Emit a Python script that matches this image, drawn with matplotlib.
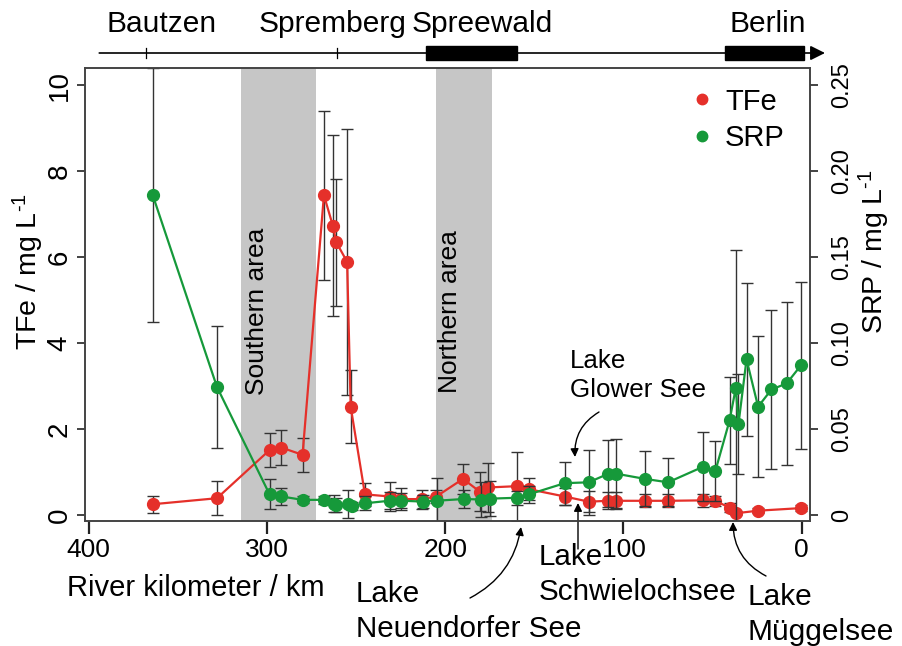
import matplotlib
matplotlib.use('Agg')
import matplotlib.pyplot as plt
from matplotlib.patches import Rectangle
from matplotlib.lines import Line2D
import matplotlib.transforms as mtransforms

plt.rcParams['font.family'] = ['Liberation Sans', 'DejaVu Sans']
plt.rcParams['mathtext.fontset'] = 'custom'
plt.rcParams['mathtext.rm'] = 'Liberation Sans'
plt.rcParams['mathtext.it'] = 'Liberation Sans:italic'

# ---------------- data ----------------
tfe_km = [364, 328, 298.5, 292, 280, 268, 263, 261, 255, 253, 245, 231, 225, 213,
          205, 190, 180.5, 176, 160, 153, 133, 119.5, 108.5, 104, 88, 75, 55.5,
          48.5, 40.5, 37, 24.5, 0.5]
tfe = [0.25, 0.39, 1.51, 1.57, 1.40, 7.44, 6.73, 6.34, 5.89, 2.52, 0.48, 0.43, 0.37,
       0.37, 0.43, 0.84, 0.54, 0.64, 0.67, 0.60, 0.43, 0.31, 0.33, 0.33, 0.33, 0.33,
       0.34, 0.33, 0.17, 0.04, 0.10, 0.16]
tfe_err = [0.2, 0.4, 0.4, 0.4, 0.4, 1.97, 2.1, 1.47, 3.1, 0.85, 0.26, 0.34, 0.25,
           0.22, 0.15, 0.35, 0.45, 0.56, 0.8, 0.25, 0.2, 0.25, 0.2, 0.2, 0.15, 0.15,
           0.15, 0.12, 0.1, 0.05, 0.06, 0.07]

srp_km = [364, 328, 298.5, 292, 280, 268, 262.5, 261, 254.5, 252.5, 245, 231, 224.5,
          212.5, 204.5, 189.5, 180, 175, 160, 153, 133, 119.5, 108.5, 104, 88, 75,
          55.5, 48.5, 40.5, 37, 35.5, 31, 24.5, 17, 8.5, 0.5]
srp = [0.186, 0.0745, 0.012, 0.0108, 0.0088, 0.0088, 0.0065, 0.0058, 0.0063, 0.0053,
       0.0068, 0.0083, 0.0083, 0.0078, 0.0083, 0.0093, 0.009, 0.0095, 0.010, 0.012,
       0.0185, 0.019, 0.024, 0.024, 0.021, 0.019, 0.028, 0.0255, 0.055, 0.074,
       0.053, 0.0905, 0.063, 0.073, 0.0765, 0.087]
srp_err = [0.074, 0.0355, 0.0088, 0.005, 0.002, 0.0025, 0.005, 0.004, 0.008, 0.0025,
           0.004, 0.005, 0.0045, 0.004, 0.013, 0.005, 0.01, 0.01, 0.004, 0.005,
           0.0125, 0.019, 0.0195, 0.02, 0.016, 0.014, 0.02, 0.0175, 0.0255, 0.08,
           0.029, 0.0445, 0.041, 0.046, 0.0475, 0.0485]

southern_area = (314.5, 272.5)
northern_area = (205, 174)
x_ticks = [0, 100, 200, 300, 400]
tfe_ticks = [0, 2, 4, 6, 8, 10]
srp_ticks = [0, 0.05, 0.10, 0.15, 0.20, 0.25]
srp_tick_labels = ['0', '0.05', '0.10', '0.15', '0.20', '0.25']

towns = ['Bautzen', 'Spremberg', 'Spreewald', 'Berlin']
town_km = [359, 263, 179, 19]
town_tick_km = [368, 260.5]
lake_blocks = [(160, 211), (-1, 43)]

RED = '#E5302A'
GREEN = '#16993A'
SPINE = '#444444'

# ---------------- figure ----------------
fig = plt.figure(figsize=(9.02, 6.46), dpi=100)
L, R, T, B = 85, 810, 68, 521
W, H = 902, 646
ax = fig.add_axes([L / W, 1 - B / H, (R - L) / W, (B - T) / H])
ax2 = ax.twinx()

ax.set_xlim(402, -4.6)
ax.set_ylim(-0.14, 10.4)
ax2.set_ylim(-0.14 / 40, 10.4 / 40)

ax.axvspan(*southern_area, color='#C6C6C6', lw=0, zorder=0)
ax.axvspan(*northern_area, color='#C6C6C6', lw=0, zorder=0)

ax.errorbar(tfe_km, tfe, yerr=tfe_err, fmt='none', ecolor='#333333',
            elinewidth=1.0, capsize=4.5, capthick=1.0, zorder=2)
ax.plot(tfe_km, tfe, '-o', color=RED, lw=1.6, ms=8.5, mec=RED, zorder=3)

ax2.errorbar(srp_km, srp, yerr=srp_err, fmt='none', ecolor='#333333',
             elinewidth=1.0, capsize=4.5, capthick=1.0, zorder=2)
ax2.plot(srp_km, srp, '-o', color=GREEN, lw=1.6, ms=8.5, mec=GREEN, zorder=3)

for a in (ax, ax2):
    for s in a.spines.values():
        s.set_color(SPINE)
        s.set_linewidth(1.2)

ax.set_xticks(x_ticks)
ax.set_xticklabels([str(v) for v in x_ticks])
ax.tick_params(axis='x', direction='out', length=9, width=1.6, labelsize=19,
               pad=3, color='#222222')
ax.set_yticks(tfe_ticks)
ax.set_yticklabels([str(v) for v in tfe_ticks], rotation=90, va='center')
ax.tick_params(axis='y', direction='out', length=6, width=1.2, labelsize=20,
               pad=3, color='#222222')
ax2.set_yticks(srp_ticks)
ax2.set_yticklabels(srp_tick_labels, rotation=90, va='center')
ax2.tick_params(axis='y', direction='out', length=6, width=1.2, labelsize=17,
                pad=9, color='#222222')

def fx(px):
    return (px - L) / (R - L)

def fy(py):
    return (B - py) / (B - T)

ax.text(fx(196), fy(588), 'River kilometer / km', transform=ax.transAxes,
        ha='center', va='center', fontsize=21)
ax.text(fx(28), fy(272), r'TFe / mg L$^{\text{-}1}$', transform=ax.transAxes,
        ha='center', va='center', rotation=90, fontsize=20.5)
ax.text(fx(874), fy(252), r'SRP / mg L$^{\text{-}1}$', transform=ax.transAxes,
        ha='center', va='center', rotation=90, fontsize=20.5)

ax.text(fx(257), fy(311), 'Southern area', transform=ax.transAxes, ha='center',
        va='center', rotation=90, fontsize=19)
ax.text(fx(450), fy(312), 'Northern area', transform=ax.transAxes, ha='center',
        va='center', rotation=90, fontsize=19)

# legend
handles = [Line2D([], [], ls='none', marker='o', color=RED, ms=7.5),
           Line2D([], [], ls='none', marker='o', color=GREEN, ms=7.5)]
ax.legend(handles, ['TFe', 'SRP'], loc='center', bbox_to_anchor=(fx(739), fy(120)),
          frameon=False, fontsize=21, handlelength=0.6, handletextpad=0.5,
          labelspacing=0.3)

# top river schematic
trans = mtransforms.blended_transform_factory(ax.transData, ax.transAxes)
ax.annotate('', xy=(-13, fy(53)), xytext=(394, fy(53)), xycoords=trans,
            textcoords=trans, annotation_clip=False,
            arrowprops=dict(arrowstyle='-|>', lw=1.2, color='black',
                            mutation_scale=22, shrinkA=0, shrinkB=0))
for k in town_tick_km:
    ax.plot([k, k], [fy(58), fy(48)], color='black', lw=0.9, transform=trans,
            clip_on=False)
for k0, k1 in lake_blocks:
    ax.add_patch(Rectangle((k0, fy(60)), k1 - k0, fy(46) - fy(60), transform=trans,
                           facecolor='black', edgecolor='black', clip_on=False))
for name, k in zip(towns, town_km):
    ax.text(k, fy(24), name, transform=trans, ha='center', va='center',
            fontsize=21.5)

# lake annotations
ax.text(fx(570), fy(349), 'Lake\nGlower See', transform=ax.transAxes, ha='left',
        va='top', fontsize=18.7, linespacing=1.25)
ax.annotate('', xy=(fx(575), fy(457)), xytext=(fx(599), fy(412)),
            xycoords='axes fraction', textcoords='axes fraction',
            annotation_clip=False,
            arrowprops=dict(arrowstyle='-|>', lw=1.0, color='black',
                            connectionstyle='arc3,rad=0.3', mutation_scale=12,
                            shrinkA=0, shrinkB=0))

ax.text(fx(356), fy(580), 'Lake\nNeuendorfer See', transform=ax.transAxes,
        ha='left', va='top', fontsize=21.3, linespacing=1.3)
ax.annotate('', xy=(fx(521), fy(527)), xytext=(fx(470), fy(598)),
            xycoords='axes fraction', textcoords='axes fraction',
            annotation_clip=False,
            arrowprops=dict(arrowstyle='-|>', lw=1.0, color='black',
                            connectionstyle='arc3,rad=0.25', mutation_scale=12,
                            shrinkA=0, shrinkB=0))

ax.text(fx(539), fy(543), 'Lake\nSchwielochsee', transform=ax.transAxes,
        ha='left', va='top', fontsize=21.3, linespacing=1.3)
ax.annotate('', xy=(fx(578), fy(503)), xytext=(fx(578), fy(549)),
            xycoords='axes fraction', textcoords='axes fraction',
            annotation_clip=False,
            arrowprops=dict(arrowstyle='-|>', lw=1.0, color='black',
                            mutation_scale=12, shrinkA=0, shrinkB=0))

ax.text(fx(747), fy(583), 'Lake\nMüggelsee', transform=ax.transAxes,
        ha='left', va='top', fontsize=21.5, linespacing=1.3)
ax.annotate('', xy=(fx(733), fy(522)), xytext=(fx(766), fy(576)),
            xycoords='axes fraction', textcoords='axes fraction',
            annotation_clip=False,
            arrowprops=dict(arrowstyle='-|>', lw=1.0, color='black',
                            connectionstyle='arc3,rad=-0.3', mutation_scale=12,
                            shrinkA=0, shrinkB=0))

fig.savefig('out.png', dpi=100)
